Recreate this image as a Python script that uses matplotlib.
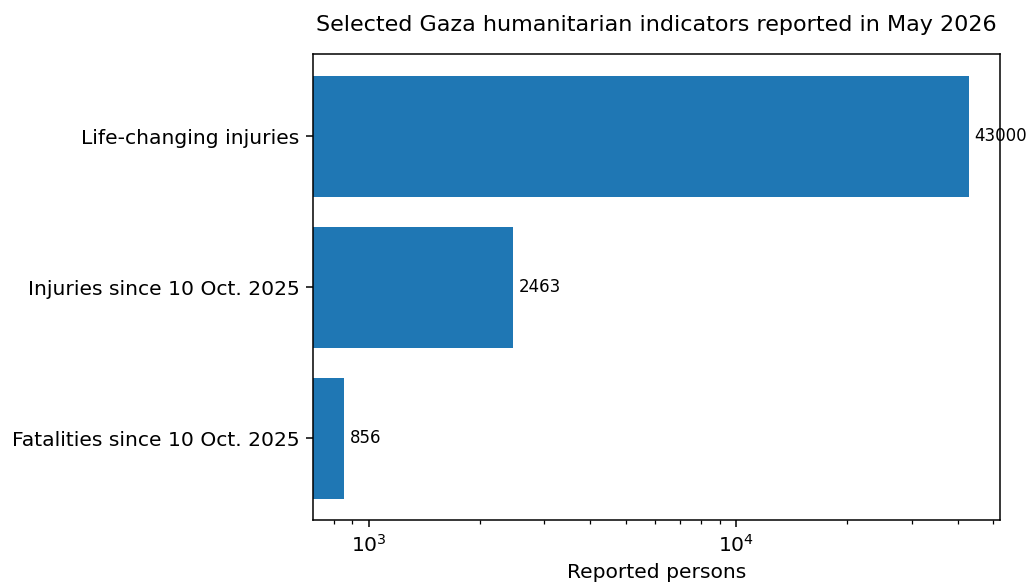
import matplotlib
matplotlib.use("Agg")
import matplotlib.pyplot as plt

categories = ["Fatalities since 10 Oct. 2025", "Injuries since 10 Oct. 2025", "Life-changing injuries"]
values = [856, 2463, 43000]
title = "Selected Gaza humanitarian indicators reported in May 2026"
xlabel = "Reported persons"

plt.rcParams.update({
    "axes.linewidth": 1.1,
    "xtick.major.size": 5, "xtick.minor.size": 2.7,
    "ytick.major.size": 5,
    "xtick.major.width": 1.1, "xtick.minor.width": 0.9,
    "ytick.major.width": 1.1,
    "xtick.major.pad": 5, "ytick.major.pad": 5,
})

fig, ax = plt.subplots(figsize=(10.27, 5.85), dpi=100)
fig.subplots_adjust(left=0.305, right=0.974, top=0.907, bottom=0.111)

bars = ax.barh(categories, values, color="#1f77b4")
ax.set_xscale("log")
ax.bar_label(bars, labels=[str(v) for v in values], padding=4, fontsize=12)
ax.set_title(title, fontsize=16, pad=17)
ax.set_xlabel(xlabel, fontsize=14.6, labelpad=5)
ax.tick_params(axis="both", labelsize=14.6)

fig.savefig("out.png", dpi=100)
